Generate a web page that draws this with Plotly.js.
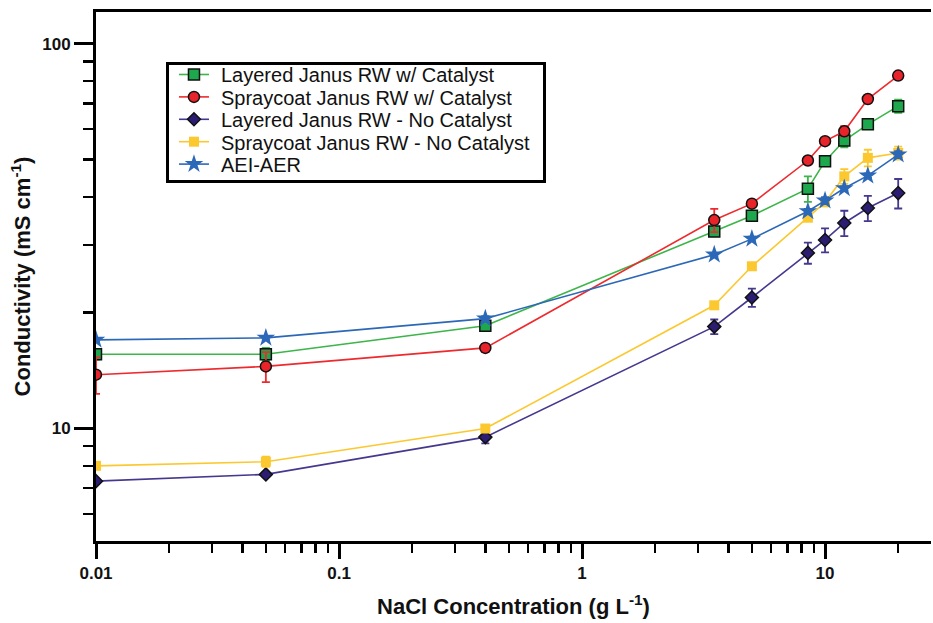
<!DOCTYPE html>
<html>
<head>
<meta charset="utf-8">
<script src="https://cdn.plot.ly/plotly-3.0.1.min.js"></script>
<style>html,body{margin:0;padding:0;background:#fff;}#chart{width:933px;height:623px;}</style>
</head>
<body>
<div id="chart"></div>
<script>
const nacl = [0.01, 0.05, 0.4, 3.5, 5, 8.5, 10, 12, 15, 20];

const layeredCat = [15.6, 15.6, 18.5, 32.5, 35.7, 42.0, 49.5, 56.0, 61.7, 68.8];
const layeredCatErr = [0.5, 0.6, 0.6, 0.6, 0.6, 3.2, 0.8, 2.2, 1.0, 2.7];

const sprayCat = [13.8, 14.5, 16.2, 34.8, 38.4, 49.7, 55.8, 59.2, 71.8, 82.6];
const sprayCatErr = [1.5, 1.3, 0.4, 2.4, 0.5, 0.6, 0.8, 1.8, 0.8, 0.8];

const layeredNo = [7.3, 7.6, 9.5, 18.4, 21.9, 28.6, 30.9, 34.2, 37.4, 40.9];
const layeredNoErr = [0.1, 0.1, 0.35, 0.8, 1.2, 1.8, 2.2, 2.6, 2.8, 3.6];

const sprayNo = [8.0, 8.2, 10.0, 20.9, 26.4, 35.3, 38.7, 45.2, 50.5, 52.0];
const sprayNoErr = [0.1, 0.25, 0.1, 0.3, 0.3, 0.6, 0.8, 2.0, 2.5, 2.0];

const aeiAer = [17.0, 17.2, 19.3, 28.3, 31.1, 36.7, 39.1, 42.1, 45.4, 51.5];
const aeiAerErr = [0.2, 0.2, 0.3, 0.3, 0.4, 0.5, 0.8, 0.5, 0.6, 1.1];

const seriesNames = [
  "Layered Janus RW w/ Catalyst",
  "Spraycoat Janus RW w/ Catalyst",
  "Layered Janus RW - No Catalyst",
  "Spraycoat Janus RW - No Catalyst",
  "AEI-AER"
];

const xTickVals = [0.01, 0.1, 1, 10];
const xTickText = ["0.01", "0.1", "1", "10"];
const xMinorVals = [0.02,0.03,0.04,0.05,0.06,0.07,0.08,0.09,0.2,0.3,0.4,0.5,0.6,0.7,0.8,0.9,2,3,4,5,6,7,8,9,20];
const yTickVals = [10, 100];
const yTickText = ["10", "100"];
const yMinorVals = [6,7,8,9,20,30,40,50,60,70,80,90];

function mk(name, y, err, lineColor, fill, symbol, size, outline) {
  return {
    type: 'scatter', mode: 'lines+markers', name: name,
    x: nacl, y: y,
    line: {color: lineColor, width: 1.6},
    marker: {symbol: symbol, size: size, color: fill,
             line: {color: outline ? '#111' : fill, width: outline ? 1.5 : 0}},
    error_y: {type: 'data', array: err, visible: true, color: lineColor, thickness: 1.8, width: 4}
  };
}

const traces = [
  mk(seriesNames[0], layeredCat, layeredCatErr, '#3cb54a', '#1ea84e', 'square', 11, true),
  mk(seriesNames[1], sprayCat, sprayCatErr, '#ee2a2e', '#e8242a', 'circle', 11, true),
  mk(seriesNames[2], layeredNo, layeredNoErr, '#45388f', '#2d1d72', 'diamond', 10, true),
  mk(seriesNames[3], sprayNo, sprayNoErr, '#fcc82f', '#fcc82f', 'square', 10, false),
  mk(seriesNames[4], aeiAer, aeiAerErr, '#2c68b8', '#2c68b8', 'star', 14, false)
];

const FF = 'Arial, Liberation Sans, sans-serif';
const tickFont = {family: FF, size: 17, color: '#111', weight: 'bold'};
const titleFont = {family: FF, size: 22, color: '#111', weight: 'bold'};

const layout = {
  width: 933, height: 623,
  margin: {l: 96, r: 2, t: 12, b: 82},
  paper_bgcolor: '#fff', plot_bgcolor: '#fff',
  showlegend: true,
  xaxis: {
    type: 'log',
    range: [-2, 1.436],
    tickmode: 'array', tickvals: xTickVals, ticktext: xTickText,
    ticks: 'outside', ticklen: 15, tickwidth: 3, tickcolor: '#000',
    minor: {tickmode: 'array', tickvals: xMinorVals, ticks: 'outside', ticklen: 9, tickwidth: 2.5, tickcolor: '#000', showgrid: false},
    showline: true, linewidth: 3, linecolor: '#000', mirror: true,
    showgrid: false, zeroline: false,
    tickfont: tickFont,
    title: {text: 'NaCl Concentration (g L<sup>-1</sup>)', font: titleFont, standoff: 17}
  },
  yaxis: {
    type: 'log',
    range: [0.7078, 2.0822],
    tickmode: 'array', tickvals: yTickVals, ticktext: yTickText,
    ticks: 'outside', ticklen: 19, tickwidth: 3, tickcolor: '#000',
    minor: {tickmode: 'array', tickvals: yMinorVals, ticks: 'outside', ticklen: 10, tickwidth: 2.5, tickcolor: '#000', showgrid: false},
    showline: true, linewidth: 3, linecolor: '#000',
    showgrid: false, zeroline: false,
    tickfont: tickFont,
    title: {text: 'Conductivity (mS cm<sup>-1</sup>)', font: titleFont, standoff: 6}
  },
  legend: {
    x: 0.0838, y: 0.9055, xanchor: 'left', yanchor: 'top',
    bgcolor: '#fff', bordercolor: '#000', borderwidth: 3,
    font: {family: FF, size: 20, color: '#111'},
    itemwidth: 30, tracegroupgap: 0
  }
};

Plotly.newPlot('chart', traces, layout, {displayModeBar: false, staticPlot: true}).then(function () {
  // tighten legend rows / padding to match the reference box
  const spacing = 22.4, shiftX = 5, shiftY = -10, textShift = 7, extraW = 14, extraH = -4;
  const items = Array.from(document.querySelectorAll('.legend .traces'));
  if (items.length < 2) return;
  const ys = items.map(el => el.getCTM().f);
  const oldSpacing = ys[1] - ys[0];
  items.forEach(function (el, i) {
    const m = /translate\(\s*([-\d.e]+)[ ,]+([-\d.e]+)\s*\)/.exec(el.getAttribute('transform') || 'translate(0,0)');
    const tx = m ? parseFloat(m[1]) : 0, ty = m ? parseFloat(m[2]) : 0;
    const delta = (ys[0] + shiftY + i * spacing) - ys[i];
    el.setAttribute('transform', 'translate(' + (tx + shiftX) + ',' + (ty + delta) + ')');
  });
  document.querySelectorAll('.legend .legendtext').forEach(function (t) {
    const x = parseFloat(t.getAttribute('x') || '0');
    t.setAttribute('x', x + textShift);
  });
  document.querySelectorAll('.legend .scrollbox, .legend [clip-path]').forEach(el => el.removeAttribute('clip-path'));
  const bg = document.querySelector('.legend rect.bg');
  if (bg) {
    const h = parseFloat(bg.getAttribute('height'));
    const w = parseFloat(bg.getAttribute('width'));
    bg.setAttribute('height', h - (oldSpacing - spacing) * (items.length - 1) + shiftY + extraH);
    bg.setAttribute('width', w + shiftX + extraW);
  }
});
</script>
</body>
</html>
